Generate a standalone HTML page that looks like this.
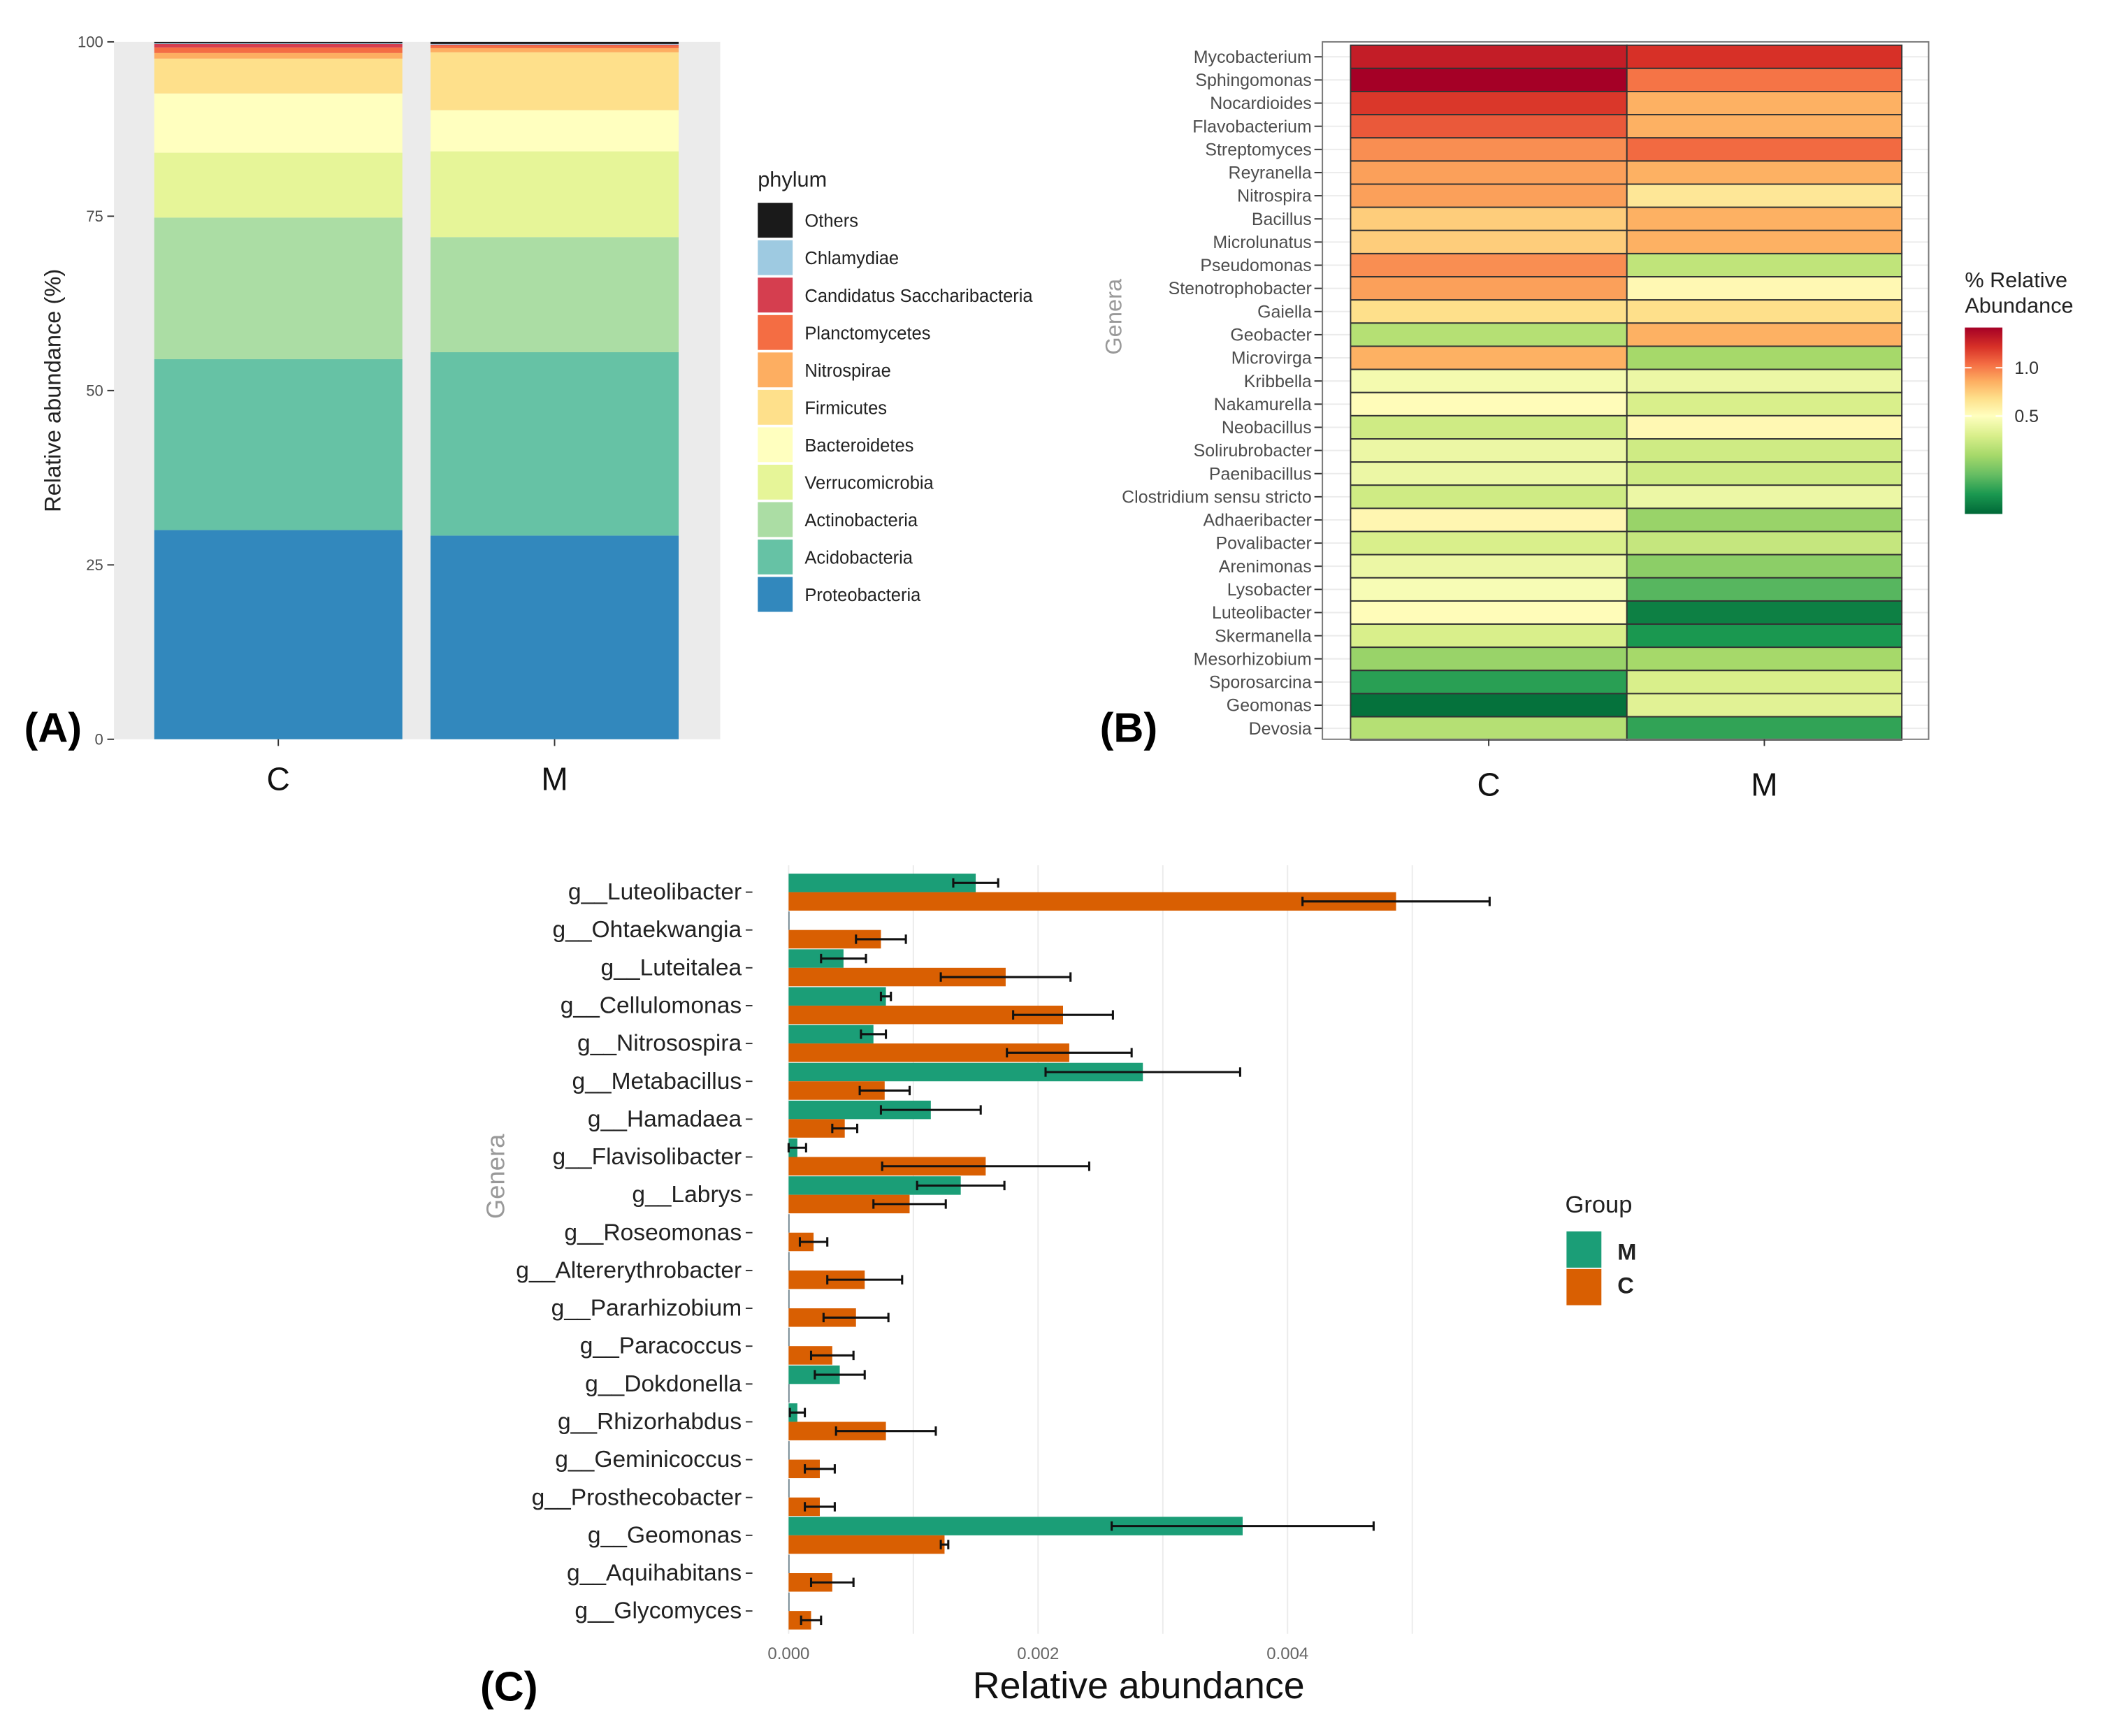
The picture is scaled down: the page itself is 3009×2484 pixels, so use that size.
<!DOCTYPE html>
<html><head><meta charset="utf-8"><style>
html,body{margin:0;padding:0;background:#fff;}
svg{display:block;font-family:"Liberation Sans",sans-serif;}
</style></head><body>
<svg id="fig" width="3009" height="2484" viewBox="0 0 1568 1294" xmlns="http://www.w3.org/2000/svg">
<rect width="1568" height="1294" fill="#fff"/>
<g id="pa"></g>
<g id="pb"></g>
<g id="pc"></g>
</svg>
<script>
// ---------- Panel A data ----------
const phyla = ["Proteobacteria","Acidobacteria","Actinobacteria","Verrucomicrobia","Bacteroidetes","Firmicutes","Nitrospirae","Planctomycetes","Candidatus Saccharibacteria","Chlamydiae","Others"];
const phylaColors = ["#3288bd","#66c2a5","#abdda4","#e6f598","#ffffbf","#fee08b","#fdae61","#f46d43","#d53e4f","#9ecae1","#1a1a1a"];
const groupsA = ["C","M"];
const valuesC = [30.0,24.5,20.3,9.3,8.5,5.0,0.8,0.8,0.5,0.1,0.2];
const valuesM = [29.2,26.3,16.5,12.3,5.9,8.3,0.6,0.4,0.1,0.1,0.3];
const ticksA = [0,25,50,75,100];

// ---------- Panel B data ----------
const genera = ["Mycobacterium","Sphingomonas","Nocardioides","Flavobacterium","Streptomyces","Reyranella","Nitrospira","Bacillus","Microlunatus","Pseudomonas","Stenotrophobacter","Gaiella","Geobacter","Microvirga","Kribbella","Nakamurella","Neobacillus","Solirubrobacter","Paenibacillus","Clostridium sensu stricto","Adhaeribacter","Povalibacter","Arenimonas","Lysobacter","Luteolibacter","Skermanella","Mesorhizobium","Sporosarcina","Geomonas","Devosia"];
const heatC = [1.30,1.42,1.20,1.10,0.95,0.90,0.90,0.75,0.75,0.95,0.90,0.68,0.33,0.85,0.47,0.52,0.38,0.45,0.45,0.38,0.55,0.40,0.45,0.48,0.52,0.40,0.28,0.12,0.02,0.33];
const heatM = [1.22,1.02,0.85,0.85,1.05,0.85,0.64,0.85,0.85,0.35,0.54,0.68,0.85,0.30,0.45,0.40,0.54,0.38,0.38,0.45,0.28,0.36,0.26,0.18,0.05,0.10,0.30,0.40,0.42,0.13];
const heatTicks = [0.5,1.0];

// ---------- Panel C data ----------
const generaC = ["g__Luteolibacter","g__Ohtaekwangia","g__Luteitalea","g__Cellulomonas","g__Nitrosospira","g__Metabacillus","g__Hamadaea","g__Flavisolibacter","g__Labrys","g__Roseomonas","g__Altererythrobacter","g__Pararhizobium","g__Paracoccus","g__Dokdonella","g__Rhizorhabdus","g__Geminicoccus","g__Prosthecobacter","g__Geomonas","g__Aquihabitans","g__Glycomyces"];
const meanM = [0.0015,0,0.00044,0.00078,0.00068,0.00284,0.00114,0.00007,0.00138,0,0,0,0,0.00041,0.00007,0,0,0.00364,0,0];
const errM  = [0.00018,0,0.00018,0.00004,0.0001,0.00078,0.0004,0.00007,0.00035,0,0,0,0,0.0002,0.00006,0,0,0.00105,0,0];
const meanC = [0.00487,0.00074,0.00174,0.0022,0.00225,0.00077,0.00045,0.00158,0.00097,0.0002,0.00061,0.00054,0.00035,0,0.00078,0.00025,0.00025,0.00125,0.00035,0.00018];
const errC  = [0.00075,0.0002,0.00052,0.0004,0.0005,0.0002,0.0001,0.00083,0.00029,0.00011,0.0003,0.00026,0.00017,0,0.0004,0.00012,0.00012,0.00003,0.00017,0.00008];
const ticksC = [0,0.002,0.004];
const ticksCLabels = ["0.000","0.002","0.004"];

const NS="http://www.w3.org/2000/svg";
function mk(parent,tag,attrs,text){const e=document.createElementNS(NS,tag);for(const k in attrs)e.setAttribute(k,attrs[k]);if(text!==undefined)e.textContent=text;parent.appendChild(e);return e;}

// ===== Panel A =====
(function(){
const g=document.getElementById('pa');
const y0=551,y1=31; const ya=v=>y0-(v/100)*(y0-y1);
const bg=mk(g,'rect',{x:85,y:31,width:452,height:520,fill:'#ebebeb'});


const barX={C:115,M:321}; const bw=185;
groupsA.forEach((grp,gi)=>{
  const vals=gi===0?valuesC:valuesM; let cum=0;
  vals.forEach((v,i)=>{
    const r=mk(g,'rect',{x:barX[grp],y:ya(cum+v),width:bw,height:ya(cum)-ya(cum+v),fill:phylaColors[i]});
    
    
    cum+=v;
  });
  mk(g,'line',{x1:barX[grp]+bw/2,x2:barX[grp]+bw/2,y1:551,y2:556,stroke:'#333','stroke-width':1});
  const t=mk(g,'text',{x:barX[grp]+bw/2,y:589,'font-size':24,'text-anchor':'middle',fill:'#111'},grp);
  
  
});
ticksA.forEach(v=>{
  mk(g,'line',{x1:80,x2:85,y1:ya(v),y2:ya(v),stroke:'#333','stroke-width':1});
  const t=mk(g,'text',{x:77,y:ya(v)+4,'font-size':11.5,'text-anchor':'end',fill:'#4d4d4d'},String(v));
  
  
});
const yt=mk(g,'text',{x:0,y:0,'font-size':17,'text-anchor':'middle',fill:'#222',transform:'translate(45,291) rotate(-90)'},'Relative abundance (%)');


const lt=mk(g,'text',{x:565,y:139,'font-size':16,fill:'#222'},'phylum');


for(let i=phyla.length-1,k=0;i>=0;i--,k++){
  const cy=164+k*27.9;
  const r=mk(g,'rect',{x:565,y:cy-13,width:26,height:26,fill:phylaColors[i]});
  
  
  const t=mk(g,'text',{x:600,y:cy+5,'font-size':13.3,fill:'#222'},phyla[i]);
  
  
}
const pl=mk(g,'text',{x:18,y:553,'font-size':31,'font-weight':'bold',fill:'#000'},'(A)');


})();

// ===== Panel B =====
(function(){
const g=document.getElementById('pb');
const stops=[[0,'#006837'],[0.1,'#1a9850'],[0.2,'#66bd63'],[0.3,'#a6d96a'],[0.4,'#d9ef8b'],[0.5,'#ffffbf'],[0.68,'#fee08b'],[0.86,'#fdae61'],[1.04,'#f46d43'],[1.22,'#d73027'],[1.42,'#a50026']];
function hex(h){return [1,3,5].map(i=>parseInt(h.substr(i,2),16));}
function col(v){v=Math.max(0,Math.min(1.42,v));for(let i=0;i<stops.length-1;i++){const a=stops[i],b=stops[i+1];if(v<=b[0]){const t=(v-a[0])/(b[0]-a[0]);const ca=hex(a[1]),cb=hex(b[1]);return 'rgb('+ca.map((c,j)=>Math.round(c+(cb[j]-c)*t)).join(',')+')';}}return stops[stops.length-1][1];}
const top=33.5,rh=(551.5-33.5)/genera.length;
const xC=1007,xM=1213,xEnd=1418;
genera.forEach((n,i)=>{mk(g,'line',{x1:986,x2:1438,y1:top+rh*(i+0.5),y2:top+rh*(i+0.5),stroke:'#ebebeb','stroke-width':1});});
genera.forEach((n,i)=>{
  const y=top+rh*i;
  const a=mk(g,'rect',{x:xC,y:y,width:xM-xC,height:rh,fill:col(heatC[i]),stroke:'#333','stroke-width':1});
  
  
  const b=mk(g,'rect',{x:xM,y:y,width:xEnd-xM,height:rh,fill:col(heatM[i]),stroke:'#333','stroke-width':1});
  
  
  mk(g,'line',{x1:980,x2:986,y1:y+rh/2,y2:y+rh/2,stroke:'#333','stroke-width':1});
  const t=mk(g,'text',{x:978,y:y+rh/2+4.5,'font-size':13,'text-anchor':'end',fill:'#4d4d4d'},n);
  
  
});
const fr=mk(g,'rect',{x:986,y:31,width:452,height:520,fill:'none',stroke:'#777','stroke-width':1});


[['C',(xC+xM)/2],['M',(xM+xEnd)/2]].forEach(([l,x])=>{
  mk(g,'line',{x1:x,x2:x,y1:551,y2:556,stroke:'#333','stroke-width':1});
  const t=mk(g,'text',{x:x,y:593,'font-size':24,'text-anchor':'middle',fill:'#111'},l);
  
  
});
const yt=mk(g,'text',{x:0,y:0,'font-size':17,'text-anchor':'middle',fill:'#999',transform:'translate(836,236) rotate(-90)'},'Genera');


const l1=mk(g,'text',{x:1465,y:214,'font-size':16,fill:'#222'},'% Relative');


mk(g,'text',{x:1465,y:233,'font-size':16,fill:'#222'},'Abundance');
// colorbar value->y mapping (non-linear legend scale)
const cbTop=244,cbBot=383;
const anchors=[[0,383],[0.5,310],[1.0,274],[1.42,244]];
const cy=v=>{for(let i=0;i<anchors.length-1;i++){const a=anchors[i],b=anchors[i+1];if(v<=b[0])return a[1]+(v-a[0])/(b[0]-a[0])*(b[1]-a[1]);}return cbTop;};
const defs=mk(g,'defs',{});
const lg=mk(defs,'linearGradient',{id:'cb',x1:0,y1:1,x2:0,y2:0});
stops.forEach(s=>mk(lg,'stop',{offset:((cbBot-cy(s[0]))/(cbBot-cbTop)*100)+'%','stop-color':s[1]}));
const cbr=mk(g,'rect',{x:1465,y:cbTop,width:28,height:cbBot-cbTop,fill:'url(#cb)'});


heatTicks.forEach(v=>{
  mk(g,'line',{x1:1465,x2:1470,y1:cy(v),y2:cy(v),stroke:'#fff','stroke-width':1});
  mk(g,'line',{x1:1488,x2:1493,y1:cy(v),y2:cy(v),stroke:'#fff','stroke-width':1});
  const t=mk(g,'text',{x:1502,y:cy(v)+4.5,'font-size':13,fill:'#333'},v.toFixed(1));
  
  
});
const pl=mk(g,'text',{x:820,y:553,'font-size':31,'font-weight':'bold',fill:'#000'},'(B)');


})();

// ===== Panel C =====
(function(){
const g=document.getElementById('pc');
const x0=588, ppu=93000; const xa=v=>x0+v*ppu;
const rowTop=665, step=(1201-665)/(generaC.length-1), bh=13.8;
const yTop=645,yBot=1218;
for(let v=0;v<=0.0050001;v+=0.001){
  mk(g,'line',{x1:xa(v),x2:xa(v),y1:yTop,y2:yBot,stroke:'#ebebeb','stroke-width':1});
}
generaC.forEach((n,i)=>{
  const cy=rowTop+step*i;
  const m=mk(g,'rect',{x:x0,y:cy-bh,width:Math.max(0.6,xa(meanM[i])-x0),height:bh,fill:meanM[i]>0?'#1b9e77':'#2a4a5a'});
  
  
  const c=mk(g,'rect',{x:x0,y:cy,width:Math.max(0.6,xa(meanC[i])-x0),height:bh,fill:meanC[i]>0?'#d95f02':'#2a4a5a'});
  
  
  [[meanM[i],errM[i],cy-bh/2],[meanC[i],errC[i],cy+bh/2]].forEach(([mv,ev,ey])=>{
    if(mv<=0)return;
    const a=xa(mv-ev),b=xa(mv+ev);
    mk(g,'line',{x1:a,x2:b,y1:ey,y2:ey,stroke:'#111','stroke-width':1.6});
    mk(g,'line',{x1:a,x2:a,y1:ey-3.5,y2:ey+3.5,stroke:'#111','stroke-width':1.6});
    mk(g,'line',{x1:b,x2:b,y1:ey-3.5,y2:ey+3.5,stroke:'#111','stroke-width':1.6});
  });
  mk(g,'line',{x1:556,x2:561,y1:cy,y2:cy,stroke:'#333','stroke-width':1});
  const t=mk(g,'text',{x:553,y:cy+5.5,'font-size':17.5,'text-anchor':'end',fill:'#222'},n);
  
  
});
ticksC.forEach((v,i)=>{
  const t=mk(g,'text',{x:xa(v),y:1237,'font-size':12.5,'text-anchor':'middle',fill:'#666'},ticksCLabels[i]);
  
  
});
const xt=mk(g,'text',{x:849,y:1266,'font-size':28,'text-anchor':'middle',fill:'#111'},'Relative abundance');


const yt=mk(g,'text',{x:0,y:0,'font-size':19,'text-anchor':'middle',fill:'#999',transform:'translate(376,877) rotate(-90)'},'Genera');


const lt=mk(g,'text',{x:1167,y:904,'font-size':18,fill:'#222'},'Group');


const km=mk(g,'rect',{x:1168,y:918,width:26,height:27,fill:'#1b9e77'});


const kc=mk(g,'rect',{x:1168,y:946,width:26,height:27,fill:'#d95f02'});


const tm=mk(g,'text',{x:1206,y:939,'font-size':17,'font-weight':'bold',fill:'#222'},'M');


const tc=mk(g,'text',{x:1206,y:964,'font-size':17,'font-weight':'bold',fill:'#222'},'C');


const pl=mk(g,'text',{x:358,y:1268,'font-size':31,'font-weight':'bold',fill:'#000'},'(C)');


})();
</script>
</body></html>
